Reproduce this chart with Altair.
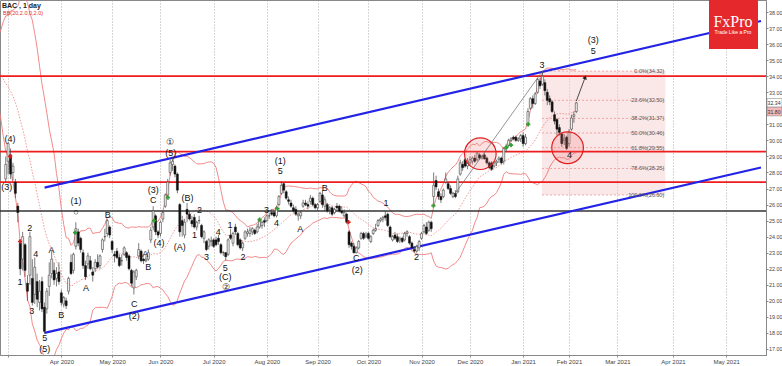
import altair as alt
import pandas as pd

# ---------------- data ----------------
# trading-day index: Apr 1, 2020 = 0
pre_close = [33.9, 34.3, 34.9, 34.8, 34.5, 34.6, 35.0, 35.4, 35.2, 34.9,
             34.7, 35.0, 34.7, 34.0, 32.4, 31.0, 30.5, 29.0]   # Feb 3..27, 2020 (band warm-up)
first_idx = -23  # Feb 28, 2020

feb_2020 = [(27.6, 29.0, 27.4, 28.5)]
mar_2020 = [(28.7, 29.9, 27.9, 29.8), (29.1, 29.5, 27.6, 27.9), (28.0, 28.6, 27.5, 28.4),
            (27.4, 27.6, 26.4, 26.7), (25.9, 26.1, 24.9, 25.5), (23.6, 23.8, 21.6, 22.0),
            (22.6, 24.3, 21.9, 24.0), (23.5, 23.6, 21.5, 21.9), (21.1, 21.6, 20.0, 20.6),
            (21.6, 24.3, 21.0, 24.0), (21.4, 22.6, 19.7, 19.9), (20.4, 22.7, 19.8, 22.1),
            (21.2, 21.7, 19.6, 20.1), (19.9, 21.3, 19.4, 20.6), (21.2, 21.5, 19.3, 19.5),
            (19.6, 19.9, 17.95, 18.1), (19.5, 20.8, 19.2, 20.6), (20.9, 22.4, 20.3, 21.6),
            (21.7, 23.1, 21.4, 22.6), (21.9, 22.4, 21.0, 21.3), (21.4, 22.1, 20.9, 21.7),
            (21.8, 22.4, 21.0, 21.2)]
apr_2020 = [(20.5, 20.7, 19.7, 19.9), (19.8, 20.3, 19.6, 20.2), (20.0, 20.2, 19.5, 19.7),
            (20.6, 21.5, 20.4, 21.4), (22.4, 22.9, 21.6, 21.7), (21.9, 23.0, 21.7, 22.9),
            (23.4, 24.9, 23.2, 24.5), (24.3, 24.5, 23.4, 23.6), (23.9, 24.0, 23.0, 23.2),
            (23.0, 23.2, 22.0, 22.2), (22.2, 22.5, 21.3, 21.5), (22.3, 23.0, 22.0, 22.8),
            (22.5, 22.8, 21.9, 22.0), (21.8, 22.1, 21.2, 21.6), (22.0, 22.6, 21.8, 22.4),
            (22.4, 22.9, 22.0, 22.1), (22.2, 22.9, 22.0, 22.8), (23.2, 23.9, 23.0, 23.8),
            (24.0, 24.5, 23.7, 24.0), (24.2, 25.1, 24.0, 25.0), (24.6, 24.7, 23.9, 24.1)]
may_2020 = [(23.7, 23.8, 23.0, 23.2), (22.9, 23.1, 22.4, 22.8), (23.1, 23.3, 22.6, 22.7),
            (22.7, 22.9, 22.1, 22.2), (22.5, 22.9, 22.2, 22.5), (22.9, 23.4, 22.8, 23.3),
            (23.0, 23.1, 22.5, 22.7), (22.8, 22.9, 21.9, 22.0), (21.9, 22.0, 20.9, 21.1),
            (20.8, 21.9, 20.4, 21.8), (21.5, 22.0, 21.3, 21.9), (22.8, 23.6, 22.6, 23.2),
            (23.1, 23.2, 22.4, 22.5), (22.6, 22.7, 22.3, 22.5), (22.5, 22.8, 22.4, 22.6),
            (22.6, 23.2, 22.5, 23.0), (23.8, 24.6, 23.6, 24.4), (24.6, 25.9, 24.4, 25.6),
            (25.3, 25.4, 24.1, 24.3), (24.3, 24.4, 23.9, 24.1)]
jun_2020 = [(24.2, 25.0, 24.0, 24.9), (25.1, 25.6, 24.9, 25.5), (25.9, 26.7, 25.8, 26.6),
            (26.6, 27.6, 26.4, 27.4), (28.0, 28.8, 27.8, 28.6), (28.5, 28.95, 28.1, 28.7),
            (28.4, 28.5, 27.7, 27.9), (27.9, 28.0, 26.7, 26.9), (26.0, 26.1, 24.0, 24.3),
            (25.0, 25.3, 24.0, 24.7), (24.1, 25.1, 23.9, 24.9), (25.7, 26.1, 24.9, 25.4),
            (25.4, 25.6, 25.0, 25.1), (25.0, 25.3, 24.6, 24.8), (25.2, 25.4, 24.5, 24.6),
            (24.6, 25.0, 24.4, 24.9), (25.0, 25.3, 24.8, 25.0), (24.7, 24.8, 23.9, 24.0),
            (23.9, 24.4, 23.6, 24.3), (23.7, 23.8, 23.1, 23.2), (23.4, 23.9, 23.2, 23.8),
            (23.7, 24.0, 23.4, 23.75)]
jul_2020 = [(23.8, 23.9, 23.3, 23.4), (23.8, 24.0, 23.4, 23.5), (23.9, 24.1, 23.5, 23.7),
            (23.5, 23.6, 22.9, 23.0), (23.0, 23.1, 22.8, 23.0), (23.0, 23.05, 22.5, 22.75),
            (22.9, 23.9, 22.8, 23.8), (24.1, 24.5, 23.8, 23.9), (23.6, 24.3, 23.4, 24.2),
            (24.6, 24.8, 24.1, 24.3), (24.2, 24.3, 23.4, 23.5), (23.8, 23.9, 23.2, 23.3),
            (23.3, 23.7, 23.1, 23.6), (23.9, 24.4, 23.8, 24.3), (24.2, 24.5, 24.0, 24.3),
            (24.2, 24.6, 24.0, 24.4), (24.3, 24.6, 24.1, 24.5), (24.4, 24.5, 24.1, 24.2),
            (24.3, 24.8, 24.2, 24.6), (24.6, 25.1, 24.5, 25.0), (24.7, 25.0, 24.5, 24.9),
            (25.0, 25.2, 24.6, 24.9)]
aug_2020 = [(25.0, 25.4, 24.9, 25.3), (25.3, 25.5, 25.1, 25.3), (25.5, 25.7, 25.3, 25.4),
            (25.5, 25.6, 25.2, 25.3), (25.3, 25.9, 25.2, 25.8), (26.0, 26.6, 25.9, 26.5),
            (26.7, 27.45, 26.6, 27.2), (27.3, 27.4, 26.7, 26.9), (26.8, 26.9, 26.3, 26.4),
            (26.3, 26.5, 26.0, 26.2), (26.1, 26.3, 25.8, 25.9), (25.8, 26.0, 25.5, 25.6),
            (25.7, 25.9, 25.3, 25.4), (25.3, 25.5, 25.0, 25.4), (25.3, 25.6, 25.1, 25.5),
            (25.9, 26.3, 25.8, 26.1), (26.1, 26.3, 25.9, 26.0), (26.0, 26.2, 25.7, 25.9),
            (26.2, 26.6, 26.0, 26.4), (26.4, 26.5, 25.9, 26.0), (26.0, 26.1, 25.7, 25.8)]
sep_2020 = [(25.8, 26.1, 25.6, 26.0), (26.2, 26.8, 26.1, 26.7), (26.6, 26.9, 25.8, 26.0),
            (25.9, 26.5, 25.6, 26.3), (26.0, 26.1, 25.5, 25.6), (25.7, 25.9, 25.4, 25.8),
            (25.8, 25.9, 25.3, 25.4), (25.5, 25.8, 25.4, 25.7), (25.9, 26.1, 25.6, 25.8),
            (25.9, 26.0, 25.5, 25.6), (25.6, 25.9, 25.4, 25.5), (25.3, 25.7, 25.2, 25.5),
            (25.4, 25.5, 24.8, 24.9), (24.3, 24.4, 23.3, 23.5), (23.6, 23.7, 23.2, 23.4),
            (23.4, 23.6, 22.95, 23.0), (23.0, 23.4, 22.95, 23.3), (23.3, 23.8, 23.2, 23.7),
            (23.9, 24.3, 23.8, 24.2), (24.2, 24.3, 23.8, 23.9), (24.0, 24.3, 23.9, 24.1)]
oct_2020 = [(24.2, 24.3, 23.8, 23.9), (23.7, 24.1, 23.6, 24.0), (24.2, 24.5, 24.1, 24.4),
            (24.4, 24.8, 24.3, 24.5), (24.7, 25.1, 24.6, 25.0), (25.0, 25.2, 24.9, 25.1),
            (25.1, 25.3, 24.9, 25.2), (25.3, 25.6, 25.0, 25.2), (25.4, 25.5, 24.6, 24.7),
            (24.6, 24.7, 23.9, 24.0), (23.8, 24.1, 23.7, 24.0), (24.1, 24.3, 23.8, 23.9),
            (24.0, 24.2, 23.6, 23.7), (23.8, 24.0, 23.6, 23.9), (23.9, 24.0, 23.6, 23.7),
            (23.8, 24.3, 23.7, 24.2), (24.2, 24.4, 24.0, 24.3), (24.0, 24.1, 23.5, 23.6),
            (23.6, 23.7, 23.2, 23.3), (23.2, 23.4, 23.0, 23.1), (23.1, 23.5, 23.0, 23.4),
            (23.3, 23.8, 23.1, 23.7)]
nov_2020 = [(23.9, 24.3, 23.8, 24.2), (24.3, 24.8, 24.2, 24.7), (24.6, 24.9, 24.1, 24.2),
            (24.4, 25.0, 24.3, 24.9), (24.9, 25.0, 24.3, 24.5), (26.5, 28.0, 26.0, 27.2),
            (27.5, 27.8, 26.9, 27.1), (26.8, 27.0, 26.3, 26.5), (26.5, 26.7, 26.1, 26.3),
            (26.5, 27.0, 26.4, 26.9), (27.4, 28.0, 27.3, 27.6), (27.3, 27.4, 26.9, 27.0),
            (27.0, 27.2, 26.6, 26.7), (26.5, 26.8, 26.4, 26.7), (26.7, 26.9, 26.4, 26.5),
            (26.8, 27.8, 26.7, 27.6), (27.9, 28.8, 27.8, 28.6), (28.5, 28.7, 28.1, 28.3),
            (28.8, 28.9, 28.3, 28.4), (28.4, 28.9, 28.2, 28.7)]
dec_2020 = [(28.6, 29.0, 28.4, 28.8), (28.7, 29.0, 28.5, 28.9), (28.9, 29.1, 28.6, 28.7),
            (28.8, 29.3, 28.7, 29.2), (29.1, 29.2, 28.8, 28.9), (28.9, 29.1, 28.8, 29.0),
            (29.1, 29.2, 28.8, 28.85), (28.9, 29.0, 28.5, 28.6), (28.6, 28.7, 28.2, 28.3),
            (28.6, 28.7, 28.1, 28.2), (28.4, 28.7, 28.3, 28.6), (28.6, 28.8, 28.4, 28.7),
            (28.8, 29.0, 28.6, 28.9), (28.9, 29.0, 28.5, 28.6), (28.7, 29.6, 28.5, 29.5),
            (29.5, 29.8, 29.3, 29.6), (29.7, 30.1, 29.6, 30.0), (30.0, 30.2, 29.9, 30.1),
            (30.2, 30.3, 30.0, 30.1), (30.2, 30.3, 29.9, 30.0), (30.0, 30.2, 29.9, 30.1),
            (30.1, 30.4, 29.9, 30.3)]
jan_2021 = [(30.3, 30.5, 29.6, 29.8), (29.8, 30.4, 29.7, 30.2), (31.0, 32.0, 30.9, 31.8),
            (32.0, 32.7, 31.9, 32.6), (32.6, 32.8, 32.0, 32.3), (32.3, 33.0, 32.2, 32.9),
            (33.0, 33.9, 32.9, 33.8), (33.7, 33.9, 33.2, 33.4), (33.5, 34.32, 33.4, 34.0),
            (33.6, 33.8, 32.8, 33.1), (33.0, 33.2, 32.2, 32.5), (32.6, 32.8, 32.2, 32.4),
            (32.4, 32.5, 31.7, 31.8), (31.6, 31.8, 31.0, 31.2), (31.3, 31.4, 30.3, 30.7),
            (30.8, 31.0, 30.3, 30.5), (30.4, 30.5, 29.6, 29.8), (30.0, 30.4, 29.7, 30.1),
            (30.2, 30.3, 29.4, 29.5)]
feb_2021 = [(29.8, 30.7, 29.6, 30.5), (30.7, 31.6, 30.6, 31.4), (31.5, 31.8, 31.1, 31.6),
            (31.8, 32.4, 31.7, 32.34)]

month_idx = [-22, 0, 21, 41, 63, 85, 106, 127, 149, 169, 191, 210, 230, 253, 275]
month_lbl = ["", "Apr 2020", "May 2020", "Jun 2020", "Jul 2020", "Aug 2020", "Sep 2020",
             "Oct 2020", "Nov 2020", "Dec 2020", "Jan 2021", "Feb 2021", "Mar 2021",
             "Apr 2021", "May 2021"]
price_ticks = [17, 18, 19, 20, 21, 22, 23, 24, 25, 26, 27, 28, 29, 30, 31,
               33, 34, 35, 36, 37, 38]   # 32.00 sits under the price tags

wave_text = ["(4)", "(3)", "1", "2", "3", "4", "5", "(5)", "A", "B", "(1)", "○", "A", "B",
             "C", "(2)", "A", "B", "(3)", "C", "(4)", "①", "(5)", "(A)", "(B)", "1", "2", "3",
             "4", "5", "(C)", "②", "1", "2", "3", "4", "(1)", "5", "A", "B", "C", "(2)", "1",
             "2", "3", "4", "(3)", "5"]
wave_idx = [-21.2, -22.6, -17.1, -13.1, -12.2, -10.6, -6.9, -6.9, -4.1, 0.0, 6.1, 6.1, 10.2,
            19.2, 30.2, 30.2, 34.7, 35.9, 38.0, 38.0, 40.4, 44.9, 45.3, 49.0, 52.2, 55.1,
            57.1, 60.0, 64.9, 67.8, 67.8, 68.2, 69.8, 75.1, 84.9, 89.0, 90.6, 90.6, 98.8,
            109.0, 122.0, 122.4, 134.3, 146.9, 198.8, 210.2, 220.0, 220.0]
wave_price = [30.06, 27.12, 21.19, 24.56, 19.38, 22.94, 17.69, 17.0, 23.19, 19.12, 26.25,
              25.56, 20.81, 25.38, 19.81, 19.06, 22.94, 22.12, 26.88, 26.31, 23.62, 29.88,
              29.19, 23.38, 26.38, 24.12, 25.69, 22.75, 24.31, 22.06, 21.5, 20.88, 24.75,
              22.75, 25.69, 24.88, 28.69, 28.12, 24.5, 27.06, 22.69, 21.94, 26.12, 22.75,
              34.69, 29.12, 36.25, 35.56]

green_idx = [5.7, 38.4, 44.1, 82.0, 89.4, 153.9, 184.1, 186.0, 193.1]
green_price = [24.25, 25.0, 26.44, 25.06, 25.75, 25.94, 29.56, 29.7, 31.0]
red_idx = [-21.2, -17.1, 118.8]
red_price = [29.0, 23.7, 24.9]

red_levels = [34.0, 29.3, 27.4]
black_levels = [25.6]

channel_name = ["upper", "upper", "lower", "lower"]
channel_idx = [-6.94, 289.4, -6.94, 289.4]
channel_price = [27.06, 37.44, 18.0, 28.31]

trend_idx = [162.5, 199.0]
trend_price = [26.6, 34.32]
arrow_idx = [213.0, 216.7]
arrow_price = [32.45, 33.94]

circle_idx = [173.3, 209.4]
circle_price = [29.17, 29.54]

fib_pct = ["0.0%", "23.6%", "38.2%", "50.0%", "61.8%", "78.6%", "100.0%"]
fib_price = [34.32, 32.50, 31.37, 30.46, 29.55, 28.25, 26.60]
fib_from, fib_to = 198.8, 249.8

tag_text = ["32.34", "31.80"]
tag_price = [32.34, 31.80]
tag_fill = ["#ffffff", "#f4b9b9"]

# ---------------- frames ----------------
rows = [r for m in [feb_2020, mar_2020, apr_2020, may_2020, jun_2020, jul_2020, aug_2020,
                    sep_2020, oct_2020, nov_2020, dec_2020, jan_2021, feb_2021] for r in m]
ohlc = pd.DataFrame(rows, columns=["open", "high", "low", "close"])
ohlc["idx"] = list(range(first_idx, first_idx + len(ohlc)))
closes = pd.DataFrame({
    "idx": list(range(first_idx - len(pre_close), first_idx + len(ohlc))),
    "close": pre_close + list(ohlc["close"]),
})
waves = pd.DataFrame({"t": wave_text, "idx": wave_idx, "price": wave_price})
greens = pd.DataFrame({"idx": green_idx, "price": green_price})
reds = pd.DataFrame({"idx": red_idx, "price": red_price})
channel = pd.DataFrame({"line": channel_name, "idx": channel_idx, "price": channel_price})
trend = pd.DataFrame({"idx": trend_idx, "price": trend_price})
arrow = pd.DataFrame({"idx": arrow_idx, "price": arrow_price})
circles = pd.DataFrame({"idx": circle_idx, "price": circle_price})
fib = pd.DataFrame({"pct": fib_pct, "price": fib_price, "x0": fib_from, "x1": fib_to})
fib["label"] = fib["pct"] + "(" + fib["price"].map(lambda v: f"{v:.2f}") + ")"
fibbox = pd.DataFrame({"x0": [fib_from], "x1": [fib_to], "top": [max(fib_price)], "bot": [min(fib_price)]})
tags = pd.DataFrame({"t": tag_text, "price": tag_price, "bg": tag_fill})

FONT = "Liberation Sans"
label_expr = "".join(f"datum.value == {i} ? '{t}' : " for i, t in zip(month_idx, month_lbl)) + "''"

xscale = alt.Scale(domain=[-23.3, 289.4], nice=False, zero=False)
yscale = alt.Scale(domain=[16.625, 38.75], nice=False, zero=False)
x_axis = alt.Axis(values=month_idx, labelExpr=label_expr, grid=True, gridDash=[1, 2],
                  gridColor="#9a9a9a", gridWidth=0.8, labelFontSize=6, labelFont=FONT,
                  labelColor="#444", tickSize=2, tickColor="#888", domainColor="#888",
                  labelPadding=1, labelFlush=False, labelOverlap=False, title=None)
y_axis = alt.Axis(orient="right", values=price_ticks, format=".2f", grid=False,
                  labelFontSize=5.4, labelFont=FONT, labelColor="#444", tickSize=2,
                  tickColor="#888", domainColor="#888", labelPadding=0.5, title=None)


def X(f):
    return alt.X(f"{f}:Q", scale=xscale, axis=x_axis, title=None)


def Y(f):
    return alt.Y(f"{f}:Q", scale=yscale, axis=y_axis, title=None)


# ---------------- layers ----------------
box = alt.Chart(fibbox).mark_rect(fill="#f5c9c9", opacity=0.45).encode(
    x=X("x0"), x2="x1", y=Y("top"), y2="bot")
fib_lines = alt.Chart(fib).mark_rule(color="#e77", strokeWidth=0.6, strokeDash=[2, 2]).encode(
    x=X("x0"), x2="x1", y=Y("price"))

bands = alt.Chart(closes).transform_window(
    window=[{"op": "mean", "field": "close", "as": "ma"},
            {"op": "stdevp", "field": "close", "as": "sd"}],
    frame=[-19, 0], sort=[{"field": "idx"}]
).transform_calculate(up="datum.ma + 2*datum.sd", dn="datum.ma - 2*datum.sd")
band_up = bands.mark_line(color="#f07c7c", strokeWidth=0.9, clip=True).encode(x=X("idx"), y=Y("up"))
band_dn = bands.mark_line(color="#f07c7c", strokeWidth=0.9, clip=True).encode(x=X("idx"), y=Y("dn"))
band_mid = bands.mark_line(color="#f07c7c", strokeWidth=0.8, strokeDash=[1.5, 1.5], clip=True).encode(
    x=X("idx"), y=Y("ma"))

red_h = alt.Chart(pd.DataFrame({"price": red_levels})).mark_rule(color="#ee1c1c", strokeWidth=1.8).encode(
    y=Y("price"))
black_h = alt.Chart(pd.DataFrame({"price": black_levels})).mark_rule(color="#333333", strokeWidth=1.5).encode(
    y=Y("price"))
chan = alt.Chart(channel).mark_line(color="#2323e8", strokeWidth=2.2, clip=True).encode(
    x=X("idx"), y=Y("price"), detail="line:N")

wicks = alt.Chart(ohlc).mark_rule(color="#444", strokeWidth=0.7, clip=True).encode(
    x=X("idx"), y=Y("low"), y2="high")
body_up = alt.Chart(ohlc).transform_filter("datum.close >= datum.open").mark_bar(
    size=2.0, fill="#f4f4f4", stroke="#444", strokeWidth=0.6, clip=True).encode(
    x=X("idx"), y=Y("open"), y2="close")
body_dn = alt.Chart(ohlc).transform_filter("datum.close < datum.open").mark_bar(
    size=2.0, fill="#111", stroke="#111", strokeWidth=0.5, clip=True).encode(
    x=X("idx"), y=Y("open"), y2="close")

circ = alt.Chart(circles).mark_point(shape="circle", size=1000, filled=True, fill="#f07070",
                                     fillOpacity=0.22, stroke="#e02020", strokeWidth=1.2).encode(
    x=X("idx"), y=Y("price"))
trend_l = alt.Chart(trend).mark_line(color="#666", strokeWidth=0.7).encode(x=X("idx"), y=Y("price"))
arrow_l = alt.Chart(arrow).mark_line(color="#222", strokeWidth=0.8).encode(x=X("idx"), y=Y("price"))
arrow_h = alt.Chart(arrow.tail(1)).mark_point(shape="triangle-up", angle=21, size=22, filled=True,
                                              color="#222", opacity=1).encode(x=X("idx"), y=Y("price"))
green_m = alt.Chart(greens).mark_point(shape="cross", size=18, filled=True, color="#2f9e2f",
                                       opacity=1).encode(x=X("idx"), y=Y("price"))
red_m = alt.Chart(reds).mark_point(shape="cross", size=18, filled=True, color="#d82020",
                                   opacity=1).encode(x=X("idx"), y=Y("price"))

wave_t = alt.Chart(waves).mark_text(fontSize=9, font=FONT, color="#111", baseline="middle").encode(
    x=X("idx"), y=Y("price"), text="t:N")
fib_t = alt.Chart(fib).mark_text(fontSize=5.5, font=FONT, color="#555", align="right",
                                 baseline="middle", dx=-1).encode(x=X("x1"), y=Y("price"), text="label:N")

tag_box = alt.Chart(tags).transform_calculate(
    top="datum.price + 0.27", bot="datum.price - 0.27").mark_rect(stroke="#777", strokeWidth=0.5).encode(
    x=alt.value(767), x2=alt.value(782), y=Y("top"), y2="bot", fill=alt.Fill("bg:N", scale=None))
tag_t = alt.Chart(tags).mark_text(fontSize=5.2, font=FONT, color="#333", align="left",
                                  baseline="middle").encode(x=alt.value(767.6), y=Y("price"), text="t:N")

title_t = alt.Chart(pd.DataFrame({"t": ["BAC , 1 day"]})).mark_text(
    fontSize=7, font=FONT, fontWeight="bold", color="#222", align="left", baseline="middle").encode(
    x=alt.value(2), y=alt.value(6), text="t:N")
sub_t = alt.Chart(pd.DataFrame({"t": ["BB(20,2.0,0,2.0)"]})).mark_text(
    fontSize=5.5, font=FONT, color="#e03030", align="left", baseline="middle").encode(
    x=alt.value(3), y=alt.value(13), text="t:N")

logo_box = alt.Chart(pd.DataFrame({"t": ["logo"]})).mark_rect(fill="#e5282b").encode(
    x=alt.value(709), x2=alt.value(758), y=alt.value(0), y2=alt.value(49))
logo_t = alt.Chart(pd.DataFrame({"t": ["FxPro"]})).mark_text(
    fontSize=16, font="Liberation Serif", color="white", baseline="middle").encode(
    x=alt.value(733), y=alt.value(22), text="t:N")
logo_s = alt.Chart(pd.DataFrame({"t": ["Trade Like a Pro"]})).mark_text(
    fontSize=5, font=FONT, color="white", baseline="middle").encode(
    x=alt.value(733), y=alt.value(32), text="t:N")

chart = alt.layer(
    box, fib_lines, band_up, band_dn, band_mid, red_h, black_h, chan,
    wicks, body_up, body_dn, circ, trend_l, arrow_l, arrow_h, green_m, red_m,
    wave_t, fib_t, tag_box, tag_t, title_t, sub_t, logo_box, logo_t, logo_s
).properties(
    width=766, height=355,
    padding={"left": 0, "top": 0, "right": 16, "bottom": 11},
    autosize=alt.AutoSizeParams(type="none"),
    background="white"
).configure_view(stroke="#888", strokeWidth=1)

chart.save("out.html", embed_options={"renderer": "svg", "actions": False})
